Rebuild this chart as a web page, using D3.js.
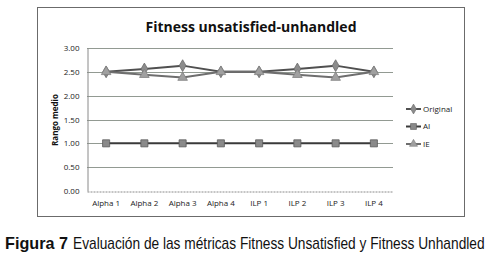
<!DOCTYPE html>
<html>
<head>
<meta charset="utf-8">
<script src="https://cdn.jsdelivr.net/npm/d3@7"></script>
<style>
  body { margin: 0; background: #fff; }
  svg { display: block; }
</style>
</head>
<body>
<svg id="chart" width="490" height="264"></svg>
<script>
// datos
const categories = ['Alpha 1', 'Alpha 2', 'Alpha 3', 'Alpha 4', 'ILP 1', 'ILP 2', 'ILP 3', 'ILP 4'];
const original = [2.5, 2.56, 2.63, 2.5, 2.5, 2.56, 2.63, 2.5];
const ai = [1, 1, 1, 1, 1, 1, 1, 1];
const ie = [2.5, 2.44, 2.38, 2.5, 2.5, 2.44, 2.38, 2.5];
const yTicks = [0, 0.5, 1, 1.5, 2, 2.5, 3];

const series = [
    { name: 'Original', values: original, line: '#505050', fill: '#8c8c8c', stroke: '#6a6a6a', symbol: d3.symbolDiamond, size: 40 },
    { name: 'AI', values: ai, line: '#3a3a3a', fill: '#8a8a8a', stroke: '#5a5a5a', symbol: d3.symbolSquare, size: 50 },
    { name: 'IE', values: ie, line: '#6e6e6e', fill: '#a0a0a0', stroke: '#808080', symbol: d3.symbolTriangle, size: 40 }
];

const svg = d3.select('#chart');
const font = "'Open Sans', 'Liberation Sans', sans-serif";

// marco exterior
svg.append('rect')
    .attr('x', 37.5).attr('y', 7.5)
    .attr('width', 427).attr('height', 209)
    .attr('fill', '#fff').attr('stroke', '#6b6b6b').attr('stroke-width', 1);

svg.append('text')
    .attr('x', 251).attr('y', 32)
    .attr('text-anchor', 'middle')
    .attr('font-family', font).attr('font-weight', 'bold').attr('font-size', 14)
    .attr('fill', '#111')
    .text('Fitness unsatisfied-unhandled');

const x = d3.scaleBand().domain(categories).range([87, 393]);
const y = d3.scaleLinear().domain([0, 3]).range([191, 48]);

// rejilla
svg.append('g')
    .selectAll('line')
    .data(yTicks.filter(d => d > 0))
    .join('line')
    .attr('x1', 87).attr('x2', 393)
    .attr('y1', d => Math.round(y(d)) + 0.5).attr('y2', d => Math.round(y(d)) + 0.5)
    .attr('stroke', '#929a92').attr('stroke-width', 1);

const yAxis = svg.append('g')
    .attr('transform', 'translate(87.5,0)')
    .call(d3.axisLeft(y).tickValues(yTicks).tickFormat(d3.format('.2f')).tickSize(0).tickPadding(8));
yAxis.select('.domain').attr('stroke', '#8a8a8a');
yAxis.selectAll('text').attr('font-family', font).attr('font-size', 8).attr('fill', '#222');

const xAxis = svg.append('g')
    .attr('transform', 'translate(0,191.5)')
    .call(d3.axisBottom(x).tickSize(0).tickPadding(9));
xAxis.select('.domain').attr('stroke', '#8a8a8a').attr('stroke-dasharray', '2,1');
xAxis.selectAll('text').attr('font-family', font).attr('font-size', 8).attr('fill', '#222');

svg.append('text')
    .attr('transform', 'translate(58,120) rotate(-90)')
    .attr('text-anchor', 'middle')
    .attr('font-family', font).attr('font-weight', 'bold').attr('font-size', 8)
    .attr('fill', '#111')
    .text('Rango medio');

const line = d3.line()
    .x((d, i) => x(categories[i]) + x.bandwidth() / 2)
    .y(d => y(d));

series.forEach(s => {
    svg.append('path')
        .datum(s.values)
        .attr('d', line)
        .attr('fill', 'none')
        .attr('stroke', s.line)
        .attr('stroke-width', 2);
    svg.append('g')
        .selectAll('path')
        .data(s.values)
        .join('path')
        .attr('transform', (d, i) => `translate(${x(categories[i]) + x.bandwidth() / 2},${y(d)})`)
        .attr('d', d3.symbol().type(s.symbol).size(s.size))
        .attr('fill', s.fill)
        .attr('stroke', s.stroke)
        .attr('stroke-width', 0.8);
});

// leyenda
const legend = svg.append('g').attr('transform', 'translate(406,0)');
const legendY = d3.scalePoint().domain(series.map(s => s.name)).range([109, 144]);
series.forEach(s => {
    const g = legend.append('g').attr('transform', `translate(0,${legendY(s.name)})`);
    g.append('line').attr('x1', 0).attr('x2', 15).attr('stroke', s.line).attr('stroke-width', 2);
    g.append('path')
        .attr('transform', 'translate(7.5,0)')
        .attr('d', d3.symbol().type(s.symbol).size(s.size * 0.7))
        .attr('fill', s.fill).attr('stroke', s.stroke).attr('stroke-width', 0.6);
    g.append('text')
        .attr('x', 17).attr('dy', '0.35em')
        .attr('font-family', font).attr('font-size', 8).attr('fill', '#222')
        .text(s.name);
});

// pie de figura: letra estrecha, se escala en horizontal para caber
const capFont = "'Liberation Sans', Arial, sans-serif";
function narrowText(x0, width, txt, bold) {
    const g = svg.append('g');
    const t = g.append('text')
        .attr('y', 249)
        .attr('font-family', capFont).attr('font-size', 16)
        .attr('font-weight', bold ? 'bold' : 'normal')
        .attr('fill', '#111')
        .text(txt);
    const sx = width / t.node().getComputedTextLength();
    g.attr('transform', `translate(${x0},0) scale(${sx},1)`);
}
narrowText(5, 63, 'Figura 7', true);
narrowText(73, 412, 'Evaluación de las métricas Fitness Unsatisfied y Fitness Unhandled', false);
</script>
</body>
</html>
